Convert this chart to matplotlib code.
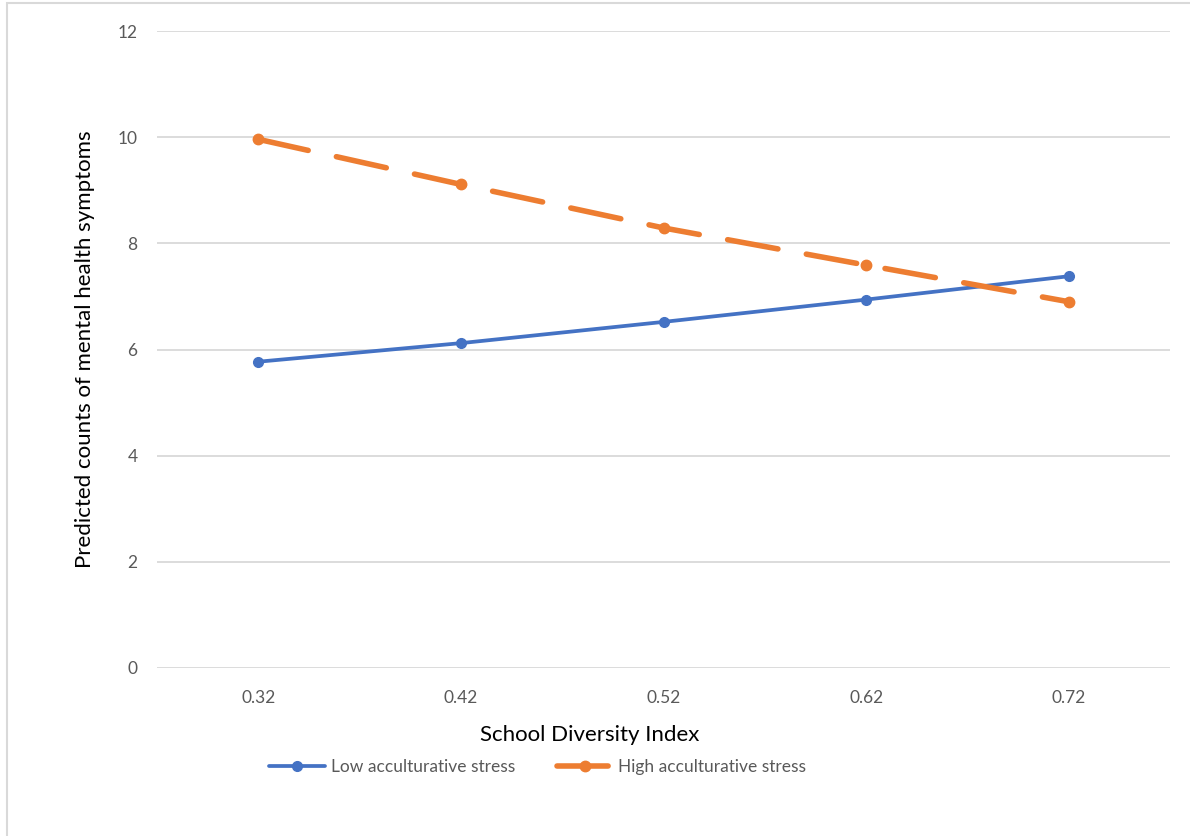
import matplotlib.pyplot as plt
from matplotlib.patches import Rectangle

plt.rcParams['font.family'] = ['Lato', 'DejaVu Sans']

# Predicted counts at each level of the diversity index
diversity = ["0.32", "0.42", "0.52", "0.62", "0.72"]
low_stress = [5.77, 6.12, 6.52, 6.94, 7.38]
high_stress = [9.96, 9.11, 8.29, 7.59, 6.90]

blue = "#4472C4"
orange = "#ED7D31"
grid_gray = "#D9D9D9"
text_gray = "#595959"

W, H = 1190, 836
fig = plt.figure(figsize=(W / 100, H / 100), dpi=100)

# light frame around the chart area
fig.add_artist(Rectangle((7 / W, -0.1), 1.2, 1 - 3 / H + 0.1, transform=fig.transFigure,
                         fill=False, edgecolor=grid_gray, linewidth=1.5))

ax = fig.add_axes([157 / W, 1 - 668 / H, (1170 - 157) / W, (668 - 31) / H])

x = range(len(diversity))
ax.plot(x, low_stress, color=blue, linewidth=2.7, marker="o", markersize=7,
        solid_capstyle="round", label="Low acculturative stress")
ax.plot(x, high_stress, color=orange, linewidth=4.0, marker="o", markersize=7.5,
        dash_capstyle="round", linestyle=(0, (9.2, 5.2)),
        label="High acculturative stress")

ax.set_xlim(-0.5, len(diversity) - 0.5)
ax.set_ylim(0, 12)
ax.set_yticks(range(0, 13, 2))
ax.set_xticks(list(x))
ax.set_xticklabels(diversity)
ax.grid(axis="y", color=grid_gray, linewidth=1.3)
ax.set_axisbelow(True)
for s in ax.spines.values():
    s.set_visible(False)
ax.tick_params(length=0, labelsize=12.5, labelcolor=text_gray)
ax.tick_params(axis="y", pad=14)
ax.tick_params(axis="x", pad=16)

ax.set_xlabel("School Diversity Index", fontsize=16, labelpad=10)
ax.xaxis.set_label_coords(0.427, -0.09)
ax.set_ylabel("Predicted counts of mental health symptoms", fontsize=16, labelpad=16)

leg = ax.legend(loc="center", bbox_to_anchor=(0.376, -0.155), ncol=2, frameon=False,
                fontsize=12.5, handlelength=3.2, columnspacing=2.4, handletextpad=0.35)
for t in leg.get_texts():
    t.set_color(text_gray)

fig.savefig("out.png", dpi=100)
